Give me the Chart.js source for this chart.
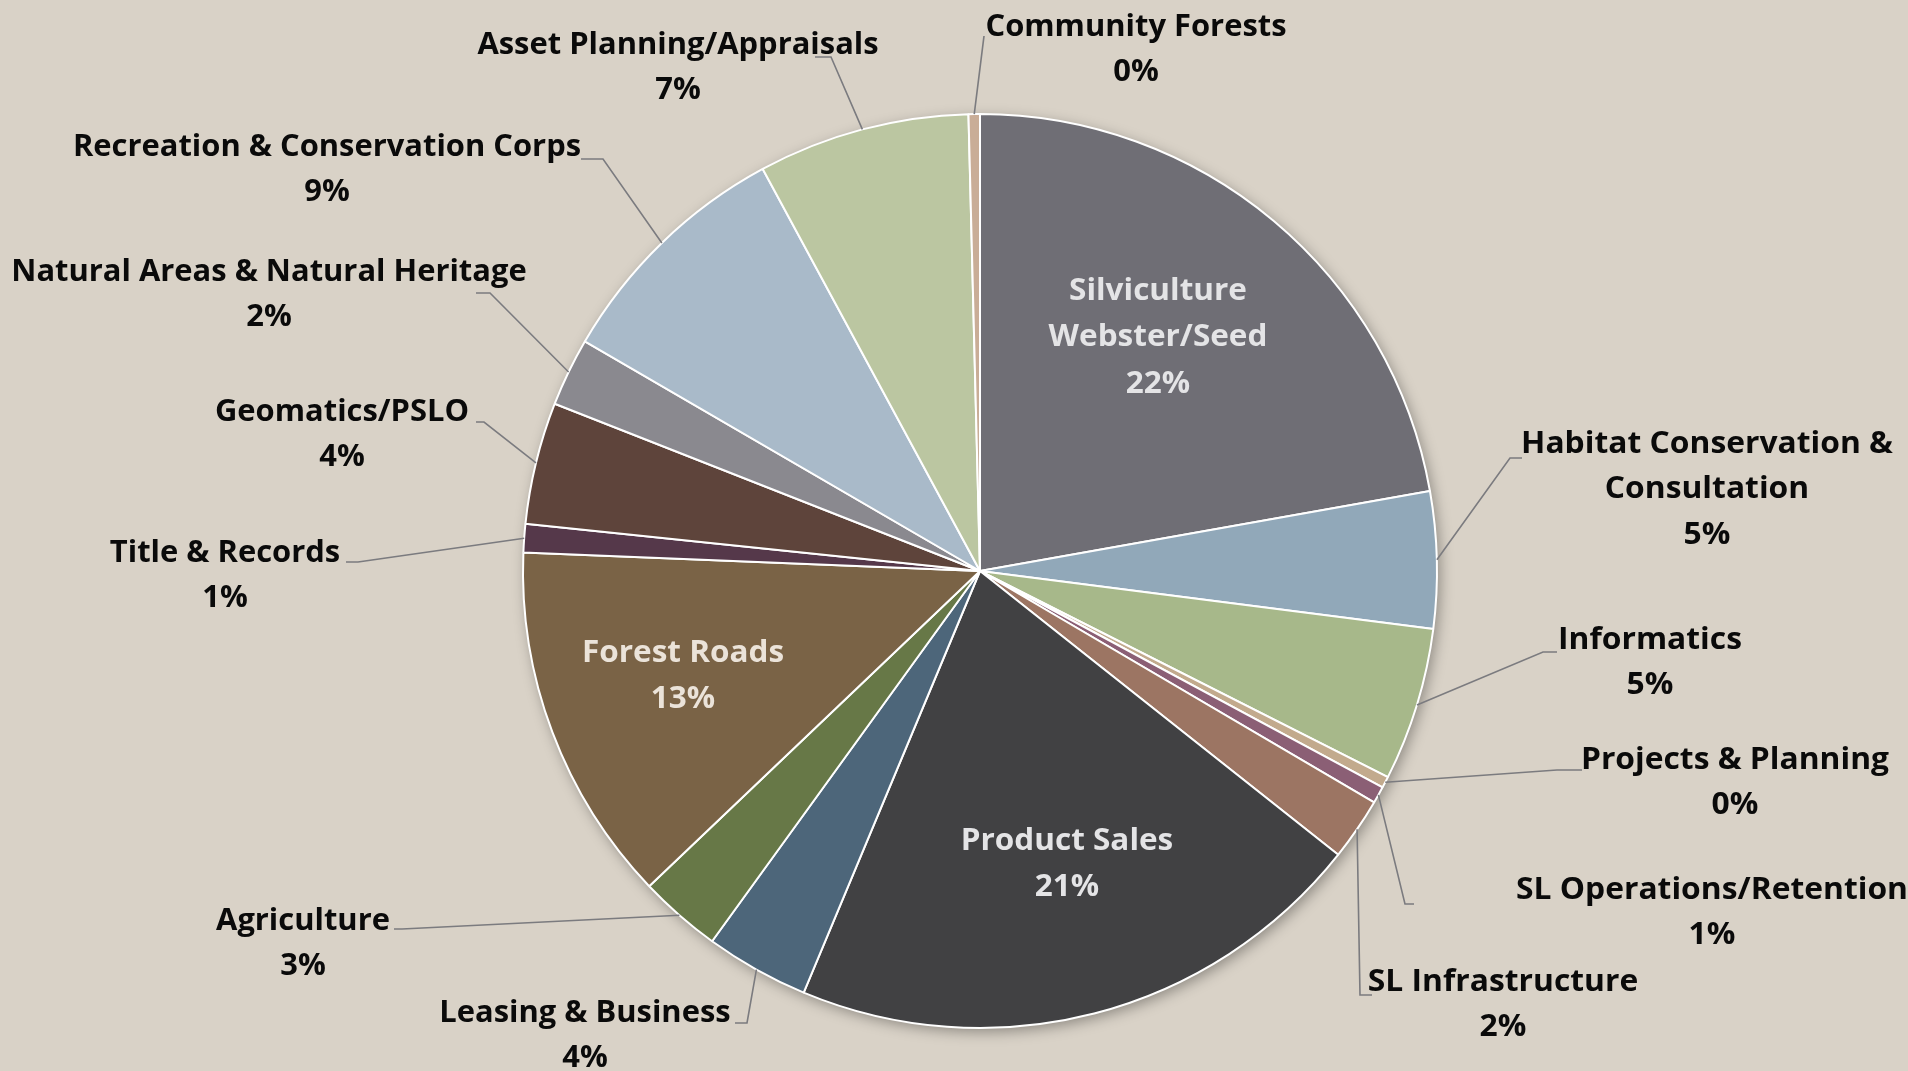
<!DOCTYPE html>
<html>
<head>
<meta charset="utf-8">
<script src="https://cdn.jsdelivr.net/npm/chart.js@4.4.1/dist/chart.umd.min.js"></script>
<style>
  html, body { margin: 0; padding: 0; background: #d9d2c7; }
  canvas { display: block; }
</style>
</head>
<body>
<canvas id="pieChart" width="1908" height="1071"></canvas>
<script>
// slices, clockwise from 12 o'clock
const categories = [
  'Silviculture\nWebster/Seed',
  'Habitat Conservation &\nConsultation',
  'Informatics',
  'Projects & Planning',
  'SL Operations/Retention',
  'SL Infrastructure',
  'Product Sales',
  'Leasing & Business',
  'Agriculture',
  'Forest Roads',
  'Title & Records',
  'Geomatics/PSLO',
  'Natural Areas & Natural Heritage',
  'Recreation & Conservation Corps',
  'Asset Planning/Appraisals',
  'Community Forests'
];
const shares = [22.1, 4.8, 5.4, 0.4, 0.6, 2.2, 20.55, 3.65, 2.9, 12.7, 1.0, 4.3, 2.4, 8.7, 7.45, 0.4];
const sliceColors = [
  '#6f6e75', '#91a8b9', '#a7b88a', '#c2aa8d', '#8b5f75', '#9c7563',
  '#414143', '#4d667a', '#677847', '#7a6346', '#55384a', '#5e443b',
  '#8a898f', '#a9bac9', '#bbc6a1', '#c9ad97'
];

// where each label sits (first line centre), and its leader line
const labelLayout = [
  { group: 'inner', x: 1158, y: 291 },
  { group: 'right', x: 1707, y: 444, anchor: [1522, 458], elbow: [1510, 458] },
  { group: 'right', x: 1650, y: 640, anchor: [1557, 652], elbow: [1543, 652] },
  { group: 'right', x: 1735, y: 760, anchor: [1582, 770], elbow: [1557, 770] },
  { group: 'right', x: 1712, y: 890, anchor: [1414, 904], elbow: [1405, 904] },
  { group: 'right', x: 1503, y: 982, anchor: [1372, 995], elbow: [1360, 995] },
  { group: 'inner', x: 1067, y: 841 },
  { group: 'left', x: 585, y: 1013, anchor: [735, 1023], elbow: [747, 1023] },
  { group: 'left', x: 303, y: 921, anchor: [394, 929], elbow: [402, 929] },
  { group: 'inner', x: 683, y: 653, color: '#ebe3d9' },
  { group: 'left', x: 225, y: 553, anchor: [346, 562], elbow: [358, 562] },
  { group: 'left', x: 342, y: 412, anchor: [476, 422], elbow: [484, 422] },
  { group: 'left', x: 269, y: 272, anchor: [476, 293], elbow: [490, 293] },
  { group: 'left', x: 327, y: 147, anchor: [581, 159], elbow: [603, 159] },
  { group: 'left', x: 678, y: 45, anchor: [815, 57], elbow: [831, 57] },
  { group: 'left', x: 1136, y: 27, anchor: [984, 36], elbow: [984, 36] }
];

const labelStyles = {
  left:  { font: 'bold 30px "Open Sans"', color: '#0a0a0a', stretch: 1.03, gap: 45 },
  right: { font: 'bold 30px "Open Sans"', color: '#0a0a0a', stretch: 1.06, gap: 45.5 },
  inner: { font: 'bold 30px "Open Sans"', color: '#e4e4e6', stretch: 1.05, gap: 46.5 }
};

const sliceLabels = {
  id: 'sliceLabels',
  beforeDatasetsDraw(chart) {
    // soft shadow under the pie
    const arc = chart.getDatasetMeta(0).data[0];
    const ctx = chart.ctx;
    ctx.save();
    ctx.shadowColor = 'rgba(0,0,0,0.35)';
    ctx.shadowBlur = 14;
    ctx.shadowOffsetX = 3;
    ctx.shadowOffsetY = 4;
    ctx.fillStyle = '#d9d2c7';
    ctx.beginPath();
    ctx.arc(arc.x, arc.y, arc.outerRadius, 0, Math.PI * 2);
    ctx.fill();
    ctx.restore();
  },
  afterDatasetsDraw(chart) {
    const ctx = chart.ctx;
    const total = shares.reduce((a, b) => a + b, 0);
    chart.getDatasetMeta(0).data.forEach((arc, i) => {
      const lay = labelLayout[i];
      const st = labelStyles[lay.group];

      if (lay.anchor) {
        const mid = (arc.startAngle + arc.endAngle) / 2;
        const px = arc.x + Math.cos(mid) * arc.outerRadius;
        const py = arc.y + Math.sin(mid) * arc.outerRadius;
        ctx.save();
        ctx.strokeStyle = '#7b7b7f';
        ctx.lineWidth = 1.6;
        ctx.beginPath();
        ctx.moveTo(lay.anchor[0], lay.anchor[1]);
        ctx.lineTo(lay.elbow[0], lay.elbow[1]);
        ctx.lineTo(px, py);
        ctx.stroke();
        ctx.restore();
      }

      const lines = categories[i].split('\n');
      lines.push(Math.round(shares[i] / total * 100) + '%');
      ctx.save();
      ctx.font = st.font;
      ctx.fillStyle = lay.color || st.color;
      ctx.textAlign = 'center';
      ctx.textBaseline = 'middle';
      lines.forEach((line, k) => {
        ctx.save();
        ctx.translate(lay.x, lay.y + k * st.gap);
        ctx.scale(st.stretch, 1);
        ctx.fillText(line, 0, 0);
        ctx.restore();
      });
      ctx.restore();
    });
  }
};

new Chart(document.getElementById('pieChart'), {
  type: 'pie',
  data: {
    labels: categories,
    datasets: [{
      data: shares,
      backgroundColor: sliceColors,
      borderColor: '#ffffff',
      borderWidth: 2
    }]
  },
  options: {
    responsive: false,
    animation: false,
    layout: { padding: { left: 52, right: 0, top: 113, bottom: 42 } },
    plugins: {
      legend: { display: false },
      tooltip: { enabled: false }
    }
  },
  plugins: [sliceLabels]
});
</script>
</body>
</html>
